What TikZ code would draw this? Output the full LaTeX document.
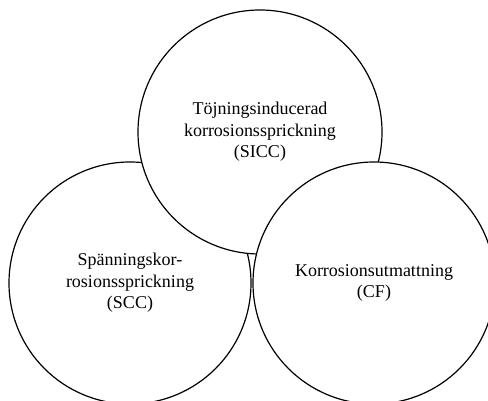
\documentclass[tikz,border=0pt]{standalone}
\usepackage{fontspec}
\setmainfont{Liberation Serif}
\begin{document}
\begin{tikzpicture}[x=1pt,y=-1pt,
  ring/.style={circle,draw=black,fill=white,line width=1.2pt,inner sep=0pt,
    minimum size=242pt,align=center,font=\fontsize{18}{21.5}\selectfont}]
\useasboundingbox (0,0) rectangle (488,401);
\clip (0,0) rectangle (488,401);
\node[ring] (scc) at (130,283) {Spänningskor-\\rosionssprickning\\(SCC)};
\node[ring,minimum size=244pt] (sicc) at (260,132) {Töjningsinducerad\\korrosionssprickning\\(SICC)};
\node[ring] (cf) at (374,283) {Korrosionsutmattning\\(CF)};
\end{tikzpicture}
\end{document}
